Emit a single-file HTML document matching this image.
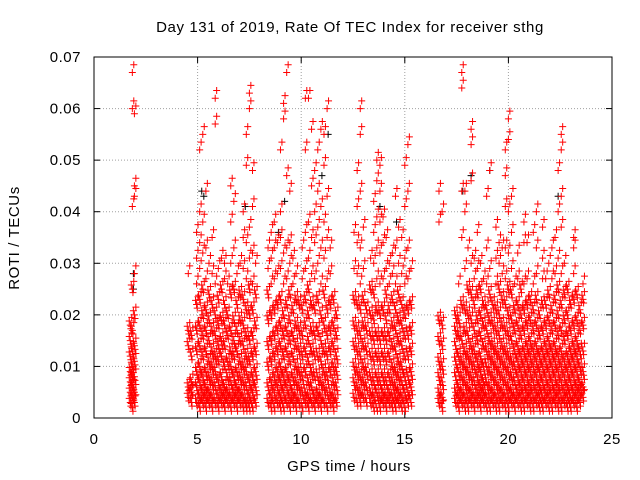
<!DOCTYPE html>
<html><head><meta charset="utf-8"><style>
body{margin:0;background:#fff}
svg{display:block;font-family:"Liberation Sans",sans-serif}
.lbl{letter-spacing:0.6px}
</style></head><body>
<svg id="chart" width="640" height="480">
<text class="lbl" x="350" y="32" text-anchor="middle" font-size="15">Day 131 of 2019, Rate Of TEC Index for receiver sthg</text>
<text class="lbl" x="349" y="471" text-anchor="middle" font-size="15">GPS time / hours</text>
<text class="lbl" transform="translate(19,238) rotate(-90)" text-anchor="middle" font-size="15">ROTI / TECUs</text>
<g id="grid"></g>
<g id="ticks"></g>
<g id="black"></g>
<g id="red"></g>
<rect x="94" y="57" width="518" height="361" fill="none" stroke="#000"/>
</svg>
<script>
const xTicks=[0,5,10,15,20,25];
const yTicks=[0,0.01,0.02,0.03,0.04,0.05,0.06,0.07];
const yTickLabels=["0","0.01","0.02","0.03","0.04","0.05","0.06","0.07"];
// red series: times (hours) and ROTI values (x0.001 TECU/min)
const redTimes=[1.75,1.85,1.95,4.55,4.7,4.95,5.1,5.25,5.4,5.55,5.7,5.85,6.0,6.15,6.3,6.45,6.6,6.75,6.9,7.05,7.2,7.35,7.5,7.65,7.8,8.4,8.55,8.7,8.85,9.0,9.15,9.3,9.45,9.6,9.75,9.9,10.05,10.2,10.35,10.5,10.65,10.8,10.95,11.1,11.25,11.4,11.55,11.7,12.55,12.7,12.85,13.0,13.15,13.35,13.5,13.65,13.8,13.95,14.1,14.25,14.4,14.55,14.7,14.85,15.0,15.15,15.3,16.65,16.8,17.45,17.6,17.75,17.9,18.05,18.2,18.35,18.5,18.65,18.8,18.95,19.1,19.25,19.4,19.55,19.7,19.85,20.0,20.15,20.3,20.45,20.6,20.75,20.9,21.05,21.2,21.35,21.5,21.65,21.8,21.95,22.1,22.25,22.4,22.55,22.7,22.85,23.0,23.15,23.3,23.45,23.6];
const redValues=[
[3,5,7,9,12,15,18],[2,4,6,8,10,13,17,25,41,60,67],[3,5,8,11,14,20,28,43,45,59],
[4,6,14,17,28],[3,5,7,12,16],[3,6,9,13,17,22,26,31,36],[2,4,7,10,14,18,23,29,34,40,52],
[3,5,8,12,16,20,25,32,38,55],[2,4,6,9,13,17,21,27,33,44],[3,5,8,11,15,19,24,30],
[2,4,7,10,13,17,22,28,35],[3,6,9,12,16,20,26,57,62],[2,4,7,11,14,18,23,29],
[3,5,8,12,15,19,25,31],[2,4,6,10,14,18,22,27,30],[3,5,8,11,16,20,26],
[2,4,7,10,13,17,24,30,38,45],[3,5,8,12,15,19,25,33,42],[2,4,6,9,13,17,22,28],
[3,5,8,11,15,19,24,30],[2,4,7,10,14,18,23,29,35,40],[2,3,6,9,12,16,21,27,34,49,55],
[2,4,7,11,15,20,25,31,37,60,63],[2,5,8,12,16,21,26,32,41,48],[3,6,9,13,18,24,30],
[3,6,10,14,19,24,29,33],[2,4,7,11,15,20,26,31,36],[2,5,8,12,16,21,27,33,38],
[3,6,9,13,17,22,28,34],[2,4,7,10,14,18,23,29,35,40,52],[2,5,8,12,16,20,26,32,58,61],
[3,6,9,13,17,22,27,33,67,47],[2,4,7,11,15,19,24,30,34,44],[3,5,8,12,16,21,26,31],
[2,4,7,10,14,18,23,28],[3,6,9,13,17,22],[2,5,8,12,16,21,27,33],
[3,5,9,13,18,23,29,36,52,62],[2,4,7,11,15,20,25,31,38,62],[3,6,9,13,17,22,28,35,45,56],
[2,4,8,12,16,21,27,34,40,48],[3,5,8,12,17,23,30,37,44,52],[2,4,7,11,15,20,26,33,41,56],
[3,6,9,13,18,24,31,38,49,55],[2,5,8,12,16,21,27,35,43,60],[3,5,9,13,17,22,28,33],
[2,4,7,10,14,18,23],[3,6,9,12,16,20],[4,7,10,14,18,23,29,36],
[3,6,9,13,17,22,28,34,41,48],[3,5,8,12,16,21,26,33,44,55,60],[4,7,10,14,18,23,29,37],
[3,6,9,13,17,21],[3,5,8,12,16,20,25,31],[2,4,7,11,15,19,24,30,36,42],
[2,5,8,12,16,21,27,33,39,46,50],[2,4,7,11,15,20,26,32,38,44,49],[3,5,8,12,16,21,27,34,39],
[2,4,7,11,15,19,24,29,35],[3,5,8,12,16,21,26,30],[2,4,7,10,14,18,23,28,32],
[2,4,6,9,13,17,21,26,33,43],[3,5,8,11,15,19,24,30,37],[2,4,7,10,14,18,22,28,35],
[2,5,8,12,16,20,26,31,41,49],[3,5,8,12,16,21,27,33,44,53],[3,6,9,13,17,22,29],
[3,5,8,11,15,19,38,44],[2,4,7,10,14,18,40],[3,5,8,11,14,17,20],
[2,4,6,9,12,16,19,26],[3,5,8,11,15,22,35,44,64,67],[2,4,7,10,13,17,21,29,40,44],
[2,4,6,9,12,16,20,25,33],[3,5,8,11,14,19,24,30,46,53,56],[2,4,7,10,13,17,22,27,31],
[3,5,8,11,15,19,24,29,36],[2,4,6,9,12,16,20,25,30],[3,5,7,10,14,18,22,27],
[2,4,7,10,13,17,21,26,33,43],[2,4,6,9,12,15,19,24,29,48],[3,5,8,11,14,18,22],
[2,4,7,10,13,17,21,26,31,37],[2,4,6,9,12,16,20,25,30,34],[3,5,8,11,14,18,23,28,33],
[2,4,7,10,13,17,22,27,33,41,47,52],[2,4,6,9,12,16,20,25,32,40,54,58],[3,5,8,11,15,19,24,29,36,43],
[2,4,7,10,13,17,21,26],[3,5,8,11,14,18,22,27,32],[2,4,6,9,12,16,20,25],
[2,4,7,10,13,17,21,26,34,38],[3,5,8,11,14,18,22,27,34],[2,4,6,9,12,15,19,23],
[2,4,7,10,13,17,21,26,36],[3,5,8,11,14,18,23,28,33,40],[2,4,6,9,12,16,20],
[2,4,7,10,13,17,22,27,31,37],[3,5,8,11,14,18,22,27],[2,4,6,9,12,15,19,24,30],
[2,4,7,10,13,17,21,27,33],[3,5,8,11,14,18,23,28,35],[2,4,6,9,12,16,20,25,31,40,48],
[2,4,7,10,13,17,22,28,37,43,52,55],[3,5,8,11,15,19,24,30],[2,4,6,9,12,16,20,25],
[2,4,7,10,13,17,22],[3,5,8,11,14,18,23,28,33,35],[2,4,6,9,12,15,19,24],
[3,5,7,10,13,17,21],[4,6,9,13,18,23,26]];
const blackTimes=[1.9,1.9,5.2,5.3,7.3,8.9,9.2,11.0,11.3,13.8,14.6,17.8,18.2,19.1,22.4];
const blackValues=[28,25,44,43,41,36,42,47,55,41,38,44,47,48,43];

const NS="http://www.w3.org/2000/svg";
const L=94,R=612,T=57,B=418;
const xs=t=>L+(t-0)/25*(R-L);
const ys=v=>B-(v-0)/0.07*(B-T);
function el(tag,a,p){const e=document.createElementNS(NS,tag);for(const k in a)e.setAttribute(k,a[k]);p.appendChild(e);return e;}
const grid=document.getElementById('grid'),ticks=document.getElementById('ticks');
xTicks.forEach(t=>{const x=xs(t);
 if(t>0&&t<25){const g=el('line',{x1:x,x2:x,y1:T,y2:B,stroke:'#a0a0a0','stroke-dasharray':'1,2'},grid);
 }
 el('line',{x1:x,x2:x,y1:B,y2:B-6,stroke:'#000'},ticks);el('line',{x1:x,x2:x,y1:T,y2:T+6,stroke:'#000'},ticks);
 const tx=el('text',{x:x,y:B+26,'text-anchor':'middle','font-size':15,'letter-spacing':0.5},ticks);tx.textContent=t;
 });
yTicks.forEach((v,i)=>{const y=ys(v);
 if(i>0&&i<yTicks.length-1){const g=el('line',{x1:L,x2:R,y1:y,y2:y,stroke:'#a0a0a0','stroke-dasharray':'1,2'},grid);
 }
 el('line',{x1:L,x2:L+6,y1:y,y2:y,stroke:'#000'},ticks);el('line',{x1:R,x2:R-6,y1:y,y2:y,stroke:'#000'},ticks);
 const tx=el('text',{x:L-13,y:y+5,'text-anchor':'end','font-size':15,'letter-spacing':0.5},ticks);tx.textContent=yTickLabels[i];
 });
function plus(g,t,v,c){const x=xs(t),y=ys(v/1000);
 const p=el('path',{d:`M${x-3.5},${y}h7M${x},${y-3.5}v7`,stroke:c,'stroke-width':1,fill:'none'},g);
 }
const bg=document.getElementById('black'),rg=document.getElementById('red');
blackTimes.forEach((t,i)=>plus(bg,t,blackValues[i],'#000'));
redTimes.forEach((t,i)=>redValues[i].forEach(v=>{plus(rg,t,v,'#f00');plus(rg,t+0.07,v+1.5,'#f00');if(v<26){plus(rg,t-0.05,v+0.8,'#f00');plus(rg,t+0.03,v-0.7,'#f00');}}));
</script>
</body></html>
